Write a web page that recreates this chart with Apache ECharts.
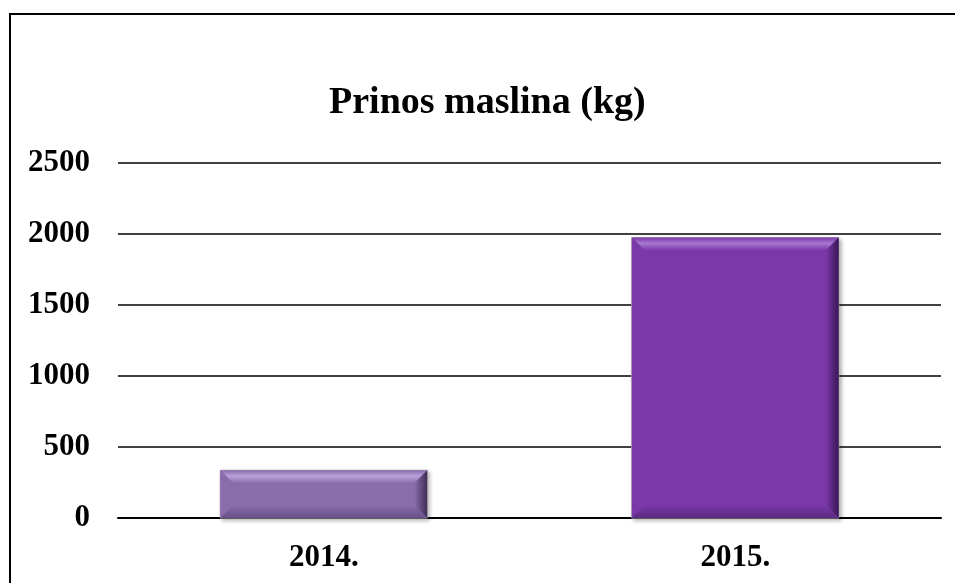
<!DOCTYPE html>
<html>
<head>
<meta charset="utf-8">
<script src="https://cdn.jsdelivr.net/npm/echarts@6/dist/echarts.min.js"></script>
<style>
html,body{margin:0;padding:0;background:#fff;overflow:hidden;width:955px;height:583px;}
#frame{position:absolute;left:9px;top:13px;width:946px;height:570px;border-left:2px solid #000;border-top:2px solid #000;box-sizing:border-box;}
#chart{position:absolute;left:0;top:0;width:955px;height:583px;}
</style>
</head>
<body>
<div id="frame"></div>
<div id="chart"></div>
<script>
var categories = ['2014.', '2015.'];
var values = [336, 1975];
var yTicks = [0, 500, 1000, 1500, 2000, 2500];
var faceColors = ['#8A6CAC', '#7A38A8'];
var lightColors = ['#B9A2D9', '#A877D2'];
var darkColors = ['#3F2D55', '#3A1656'];
var bottomColors = ['#67508A', '#5B2A82'];

var chart = echarts.init(document.getElementById('chart'), null, {renderer: 'canvas'});

function renderBar(params, api) {
  var idx = api.value(0);
  var v = api.value(1);
  var top = api.coord([idx, v]);
  var base = api.coord([idx, 0]);
  var bw = api.size([1, 0])[0] * 0.503;
  var x0 = top[0] - bw / 2, x1 = top[0] + bw / 2;
  var y0 = top[1], y1 = base[1];
  var b = Math.min(13, (y1 - y0) / 2.5);
  var i = params.dataIndex;
  var face = faceColors[i], light = lightColors[i], dark = darkColors[i], bot = bottomColors[i];
  return {
    type: 'group',
    children: [
      {type: 'rect', shape: {x: x0, y: y0, width: x1 - x0, height: y1 - y0},
       style: {fill: face, stroke: '#b8b0c0', lineWidth: 1, shadowBlur: 4, shadowColor: 'rgba(0,0,0,0.3)', shadowOffsetX: 2, shadowOffsetY: 2}},
      {type: 'polygon', shape: {points: [[x0, y0], [x1, y0], [x1 - b, y0 + b], [x0 + b, y0 + b]]},
       style: {fill: new echarts.graphic.LinearGradient(0, 0, 0, 1, [{offset: 0, color: face}, {offset: 0.45, color: light}, {offset: 1, color: face}])}},
      {type: 'polygon', shape: {points: [[x0, y0], [x0 + b, y0 + b], [x0 + b, y1 - b], [x0, y1]]},
       style: {fill: face}},
      {type: 'polygon', shape: {points: [[x1, y0], [x1, y1], [x1 - b, y1 - b], [x1 - b, y0 + b]]},
       style: {fill: new echarts.graphic.LinearGradient(0, 0, 1, 0, [{offset: 0, color: face}, {offset: 1, color: dark}])}},
      {type: 'polygon', shape: {points: [[x0, y1], [x0 + b, y1 - b], [x1 - b, y1 - b], [x1, y1]]},
       style: {fill: new echarts.graphic.LinearGradient(0, 0, 0, 1, [{offset: 0, color: face}, {offset: 1, color: bot}])}}
    ]
  };
}

var option = {
  backgroundColor: 'transparent',
  animation: false,
  title: {
    text: 'Prinos maslina (kg)',
    left: 329,
    top: 84,
    padding: 0,
    textStyle: {fontFamily: 'Liberation Serif', fontWeight: 'bold', fontSize: 38, color: '#000'}
  },
  grid: {left: 118, right: 14, top: 163, bottom: 65, containLabel: false},
  xAxis: {
    type: 'category',
    data: categories,
    axisTick: {show: false},
    axisLine: {lineStyle: {color: '#000', width: 2}},
    axisLabel: {fontFamily: 'Liberation Serif', fontWeight: 'bold', fontSize: 31, color: '#000', margin: 24}
  },
  yAxis: {
    type: 'value',
    min: yTicks[0],
    max: yTicks[yTicks.length - 1],
    interval: 500,
    axisLine: {show: false},
    axisTick: {show: false},
    splitLine: {lineStyle: {color: '#000', width: 1.6}},
    axisLabel: {fontFamily: 'Liberation Serif', fontWeight: 'bold', fontSize: 31, color: '#000', margin: 28,
      formatter: function (v) { return String(v); }}
  },
  series: [{
    type: 'custom',
    renderItem: renderBar,
    encode: {x: 0, y: 1},
    data: values.map(function (v, i) { return [i, v]; })
  }]
};
chart.setOption(option);
</script>
</body>
</html>
